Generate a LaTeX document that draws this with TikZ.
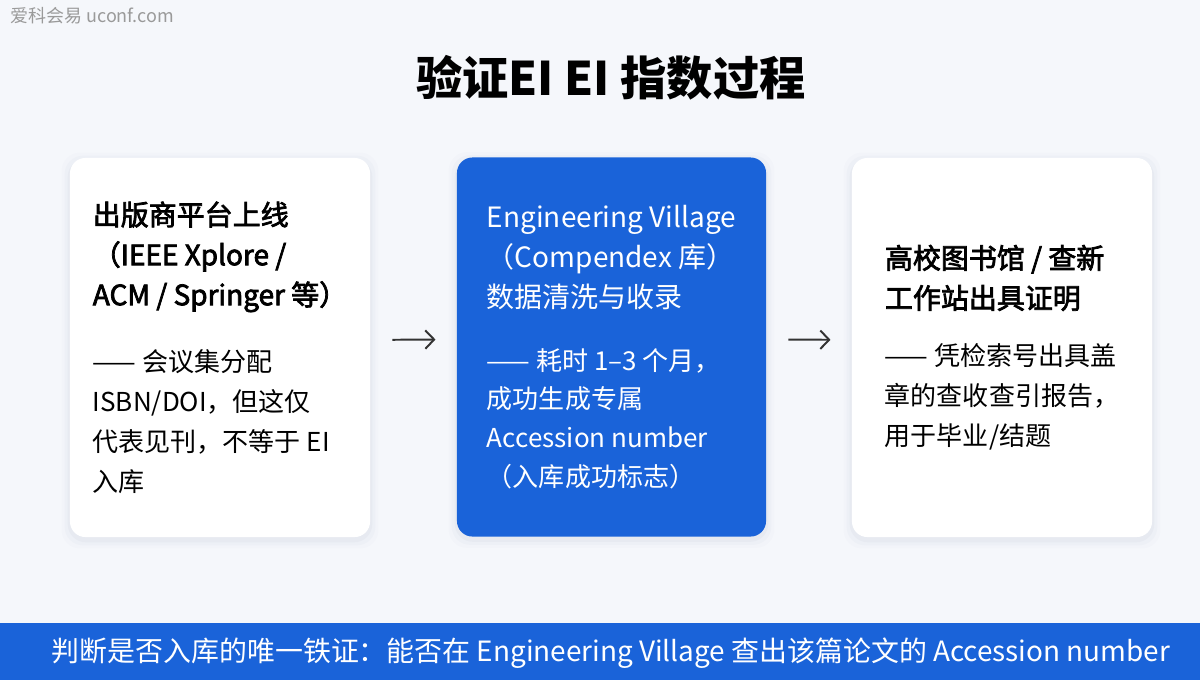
\documentclass[tikz,border=0pt]{standalone}
\usepackage{fontspec}
\setmainfont{Noto Sans CJK SC}
\newfontfamily\cardheadfamily{Noto Sans CJK SC}[FakeBold=2.6]
\usetikzlibrary{arrows.meta,positioning,backgrounds}
\definecolor{pagebg}{HTML}{F5F7FB}
\definecolor{keyblue}{HTML}{1A63D9}
\definecolor{shadowgrey}{HTML}{7D8BA6}
\definecolor{arrowgrey}{HTML}{333333}
\definecolor{marktext}{HTML}{9A9A9A}
\newcommand\headfont{\fontsize{19.9pt}{28.45pt}\selectfont}
\newcommand\bodyfont{\fontsize{18.5pt}{28.45pt}\selectfont}
\tikzset{
  every node/.style={inner sep=0pt, text=black},
  card/.style={rectangle, rounded corners=11pt, fill=white, font=\bodyfont,
    minimum width=7.5cm, minimum height=9.475cm, align=left},
  keycard/.style={card, fill=keyblue, text=white, minimum width=7.725cm},
  flow/.style={-{Straight Barb[length=2.2mm,width=4.6mm]}, line width=1.4pt,
    draw=arrowgrey, shorten <=0.55cm, shorten >=0.53cm},
  title/.style={font=\fontsize{32.9pt}{38pt}\selectfont\bfseries},
  watermark/.style={font=\fontsize{12.8pt}{15pt}\selectfont, text=marktext, anchor=west},
  banner/.style={rectangle, fill=keyblue, minimum width=30cm, minimum height=1.425cm},
  bannertext/.style={font=\fontsize{19.85pt}{24pt}\selectfont, text=white},
}

\begin{document}
\begin{tikzpicture}[x=0.025cm,y=-0.025cm]
\useasboundingbox (0,0) rectangle (1200,680);
\begin{scope}[on background layer]
  \fill[pagebg] (0,0) rectangle (1200,680);
\end{scope}

% ---- Watermark and title ----------------------------------------------
\node[watermark] (wm) at (10,16) {爱科会易 uconf.com};
\node[title] (head) at (611,78) {验证EI EI 指数过程};

% ---- Three stages --------------------------------------------------------
\node[card] (pub) at (220,347.5)
  {{\headfont\cardheadfamily 出版商平台上线}\\
   {\headfont\cardheadfamily （IEEE Xplore /}\\
   {\headfont\cardheadfamily ACM / Springer 等）}\\[18.5pt]
   —— 会议集分配\\
   ISBN/DOI，但这仅\\
   代表见刊，不等于 EI\\
   入库};
\node[keycard] (ev) at (611.5,347)
  {{\headfont Engineering Village}\\
   {\headfont （Compendex 库）}\\
   {\headfont 数据清洗与收录}\\[16pt]
   —— 耗时 1–3 个月，\\[-1pt]
   成功生成专属\\[-1pt]
   Accession number\\[-1pt]
   （入库成功标志）};
\node[card] (lib) at (1002,347.5)
  {{\headfont\cardheadfamily 高校图书馆 / 查新}\\
   {\headfont\cardheadfamily 工作站出具证明}\\[12pt]
   —— 凭检索号出具盖\\
   章的查收查引报告，\\
   用于毕业/结题};

% soft shadows under the cards
\begin{scope}[on background layer]
  \foreach \n in {pub,ev,lib}
    \foreach \s/\o in {8/0.025,5/0.035,2/0.05}
      \fill[shadowgrey, opacity=\o, rounded corners=13pt]
        ([shift={(-\s,-\s+3)}]\n.north west) rectangle ([shift={(\s,\s+3)}]\n.south east);
\end{scope}

\draw[flow] ([yshift=0.19cm]pub.east) -- ([yshift=0.19cm]ev.west);
\draw[flow] ([yshift=0.19cm]ev.east) -- ([yshift=0.19cm]lib.west);

% ---- Bottom banner -------------------------------------------------------
\node[banner] (bar) at (600,651.5) {};
\node[bannertext] (verdict) at (611,653)
  {判断是否入库的唯一铁证：能否在 Engineering Village 查出该篇论文的 Accession number};

\end{tikzpicture}
\end{document}
